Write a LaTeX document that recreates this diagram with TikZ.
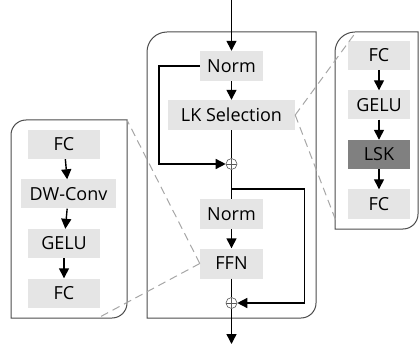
\documentclass[tikz,border=0pt]{standalone}
\usepackage{fontspec}
\setmainfont{Open Sans}
\usetikzlibrary{arrows.meta}

\tikzset{
  blk/.style={fill=black!10, inner sep=0pt, minimum height=30pt, font=\fontsize{18}{22}\selectfont},
  sblk/.style={blk, minimum height=29pt},
  flow/.style={line width=1.4pt},
  arr/.style={flow, -{Triangle[width=10pt,length=10pt]}},
  frame/.style={draw=black!70, line width=1pt},
  zoomline/.style={draw=black!35, line width=1pt, dash pattern=on 8pt off 5pt},
  plus/.style={circle, draw=black!65, line width=0.6pt, minimum size=11pt, inner sep=0pt,
    path picture={\draw[black!65, line width=0.6pt]
      (path picture bounding box.north) -- (path picture bounding box.south)
      (path picture bounding box.west) -- (path picture bounding box.east);}}
}

\begin{document}
\begin{tikzpicture}[x=1pt, y=-1pt]
\useasboundingbox (0,0) rectangle (419,344);

% main block
\node[blk, minimum width=63pt] (norm1) at (231.5,66) {Norm};
\node[blk, minimum width=127pt] (lks) at (231.5,115) {LK Selection};
\node[plus] (p1) at (231.5,164) {};
\node[blk, minimum width=63pt] (norm2) at (231.5,214) {Norm};
\node[blk, minimum width=63pt] (ffn) at (231.5,263.5) {FFN};
\node[plus] (p2) at (231.5,303) {};
\coordinate (in) at (231.5,0);
\coordinate (out) at (231.5,344);
\coordinate (br) at (231.5,189);

% LK Selection detail
\node[sblk, minimum width=62pt] (rfc1) at (379,55.5) {FC};
\node[sblk, minimum width=62pt] (rgelu) at (379,105) {GELU};
\node[sblk, minimum width=62pt, fill=black!50] (rlsk) at (379,154.5) {LSK};
\node[sblk, minimum width=62pt] (rfc2) at (379,204) {FC};

% FFN detail
\node[sblk, minimum width=72pt] (lfc1) at (64,144.5) {FC};
\node[sblk, minimum width=95pt] (ldw) at (68.5,194) {DW-Conv};
\node[sblk, minimum width=72pt] (lgelu) at (64,243.5) {GELU};
\node[sblk, minimum width=72pt] (lfc2) at (64,293) {FC};

% frames
\draw[frame] (147,318) [rounded corners=20pt] -- (147,32) [sharp corners] -- (316,32)
  [rounded corners=15pt] -- (316,318) [sharp corners] -- cycle;
\draw[frame] (335,229) [rounded corners=20pt] -- (335,32) [sharp corners] -- (418,32)
  [rounded corners=15pt] -- (418,229) [sharp corners] -- cycle;
\draw[frame] (11,318) [rounded corners=15pt] -- (11,120) [sharp corners] -- (127,120)
  [rounded corners=15pt] -- (127,318) [sharp corners] -- cycle;

% zoom lines
\coordinate (rc1) at (356,32);
\coordinate (rc2) at (336,221);
\coordinate (lc1) at (127,120);
\coordinate (lc2) at (98,318);
\draw[zoomline] (lks.east) -- (rc1);
\draw[zoomline] (lks.east) -- (rc2);
\draw[zoomline] (ffn.west) -- (lc1);
\draw[zoomline] (ffn.west) -- (lc2);

% flow
\draw[arr] (in) -- (norm1);
\draw[arr] (norm1) -- (lks);
\draw[flow] (lks) -- (p1);
\draw[arr] (norm1.west) -- ++(-41,0) |- (p1);
\draw[flow] (p1) -- (norm2);
\draw[arr] (norm2) -- (ffn);
\draw[flow] (ffn) -- (p2);
\draw[arr] (br) -- ++(73,0) |- (p2);
\draw[arr] (p2) -- (out);

\draw[arr] (rfc1) -- (rgelu);
\draw[arr] (rgelu) -- (rlsk);
\draw[arr] (rlsk) -- (rfc2);
\draw[arr] (lfc1) -- (ldw);
\draw[arr] (ldw) -- (lgelu);
\draw[arr] (lgelu) -- (lfc2);
\end{tikzpicture}
\end{document}
